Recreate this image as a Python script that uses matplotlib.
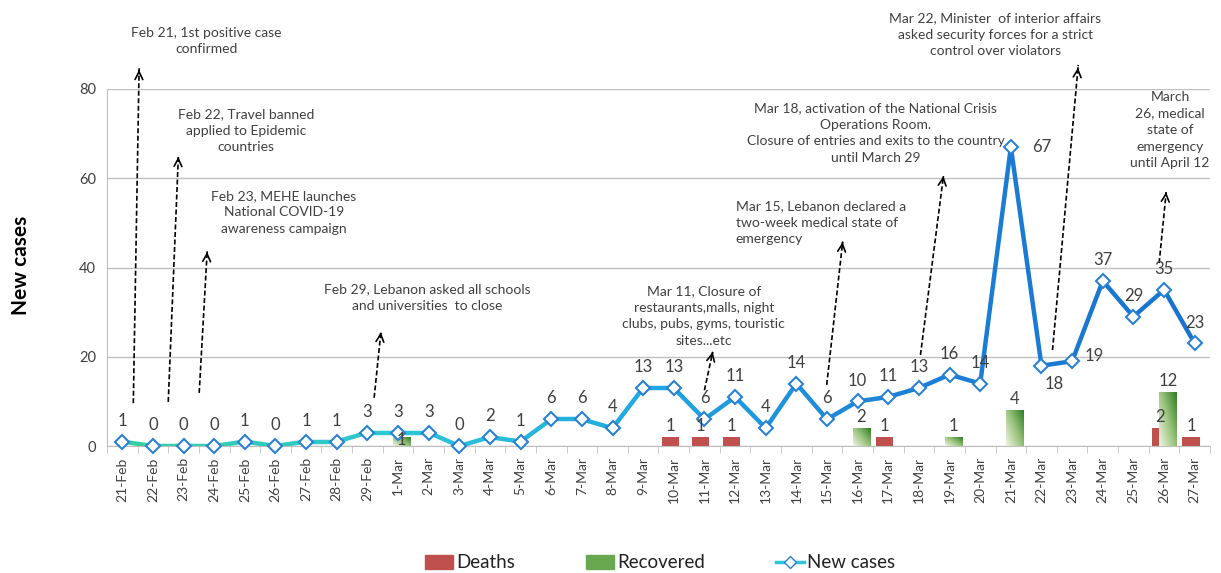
import numpy as np
import matplotlib
matplotlib.use("Agg")
import matplotlib.pyplot as plt
from matplotlib.collections import LineCollection
from matplotlib.colors import LinearSegmentedColormap
from matplotlib.patches import Patch
from matplotlib.lines import Line2D

plt.rcParams['font.family'] = ['Lato', 'DejaVu Sans']

# dates and daily new cases
dates = ["21-Feb", "22-Feb", "23-Feb", "24-Feb", "25-Feb", "26-Feb", "27-Feb", "28-Feb", "29-Feb",
         "1-Mar", "2-Mar", "3-Mar", "4-Mar", "5-Mar", "6-Mar", "7-Mar", "8-Mar", "9-Mar", "10-Mar",
         "11-Mar", "12-Mar", "13-Mar", "14-Mar", "15-Mar", "16-Mar", "17-Mar", "18-Mar", "19-Mar",
         "20-Mar", "21-Mar", "22-Mar", "23-Mar", "24-Mar", "25-Mar", "26-Mar", "27-Mar"]
new_cases = [1, 0, 0, 0, 1, 0, 1, 1, 3, 3, 3, 0, 2, 1, 6, 6, 4, 13, 13, 6, 11, 4, 14, 6,
             10, 11, 13, 16, 14, 67, 18, 19, 37, 29, 35, 23]

# deaths / recovered: label values and bar heights as drawn on the axis
death_days = ["10-Mar", "11-Mar", "12-Mar", "17-Mar", "26-Mar", "27-Mar"]
deaths = [1, 1, 1, 1, 2, 1]
deaths_bar = [2, 2, 2, 2, 4, 2]
recov_days = ["1-Mar", "16-Mar", "19-Mar", "21-Mar", "26-Mar"]
recovered = [1, 2, 1, 4, 12]
recovered_bar = [2, 4, 2, 8, 12]

# events: text, text position (x index, y), arrow tail, arrow head
events = [
    ("Feb 21, 1st positive case\nconfirmed", (2.74, 90.8), (0.36, 9.6), (0.55, 84.9), "center"),
    ("Feb 22, Travel banned\napplied to Epidemic\ncountries", (4.04, 70.6), (1.5, 9.9), (1.83, 64.8), "center"),
    ("Feb 23, MEHE launches\nNational COVID-19\nawareness campaign", (5.28, 52.4), (2.51, 11.9), (2.77, 43.5), "center"),
    ("Feb 29, Lebanon asked all schools\nand universities  to close", (9.94, 33.2), (8.22, 10.8), (8.44, 25.5), "center"),
    ("Mar 11, Closure of\nrestaurants,malls, night\nclubs, pubs, gyms, touristic\nsites...etc", (18.98, 29.1), (19.0, 12.5), (19.27, 21.1), "center"),
    ("Mar 15, Lebanon declared a\ntwo-week medical state of\nemergency", (20.02, 50.0), (22.99, 13.7), (23.51, 45.7), "left"),
    ("Mar 18, activation of the National Crisis\nOperations Room.\nClosure of entries and exits to the country\nuntil March 29", (24.58, 70.1), (26.05, 20.4), (26.8, 60.5), "center"),
    ("Mar 22, Minister  of interior affairs\nasked security forces for a strict\ncontrol over violators", (28.5, 92.1), (30.36, 21.5), (31.2, 85.4), "center"),
    ("March\n26, medical\nstate of\nemergency\nuntil April 12", (34.2, 70.8), (33.84, 41.0), (34.07, 56.9), "center"),
]

txt_col = "#404040"
x = np.arange(len(dates))

fig = plt.figure(figsize=(12.21, 5.73), dpi=100)
ax = fig.add_axes([0.0876, 0.2216, 0.9034, 0.6231])

# bars
bw = 0.56
dx = [dates.index(d) - 0.12 for d in death_days]
ax.bar(dx, deaths_bar, width=bw, color="#c0504d", zorder=2)
for xi, h, v in zip(dx, deaths_bar, deaths):
    ax.annotate(str(v), (xi, h), xytext=(0, 8), textcoords="offset points",
                ha="center", va="center", fontsize=12, color=txt_col, zorder=8)

# recovered bars with a light-to-dark green gradient (light bottom-left, dark top-right)
green = LinearSegmentedColormap.from_list("g", ["#eef4e4", "#9cc47e", "#2f7f25"])
gx, gy = np.meshgrid(np.linspace(0, 1, 30), np.linspace(0, 1, 60))
grad = (gx * 0.55 + gy * 0.45)
rx = [dates.index(d) + 0.12 for d in recov_days]
for xi, h, v in zip(rx, recovered_bar, recovered):
    ax.imshow(grad, cmap=green, vmin=0, vmax=1, extent=(xi - bw / 2, xi + bw / 2, 0, h),
              origin="lower", aspect="auto", zorder=3, interpolation="bilinear")
    if v == 1 and xi < 10:
        off = (0, -2)
    else:
        off = (0, 8)
    ax.annotate(str(v), (xi, h), xytext=off, textcoords="offset points",
                ha="center", va="center", fontsize=12, color=txt_col, zorder=8)

# line with gradient colour
line_cmap = LinearSegmentedColormap.from_list("l", ["#35cfa6", "#2cc6d6", "#20a6e0", "#1b7fd6", "#1a74cf"])
pts = np.column_stack([x, new_cases]).reshape(-1, 1, 2)
segs = np.concatenate([pts[:-1], pts[1:]], axis=1)
lc = LineCollection(segs, cmap=line_cmap, linewidths=3.2, zorder=4, capstyle="round", joinstyle="round")
lc.set_array(np.linspace(0, 1, len(segs)))
ax.add_collection(lc)
ax.plot(x, new_cases, linestyle="none", marker="D", markersize=7.5, markerfacecolor="white",
        markeredgecolor="#2a80d2", markeredgewidth=1.5, zorder=5, clip_on=False)

special = {"21-Mar": (22, 0), "22-Mar": (9, -13), "23-Mar": (16, 4)}
for i, v in enumerate(new_cases):
    off = special.get(dates[i], (0, 15))
    ax.annotate(str(v), (i, v), xytext=off, textcoords="offset points",
                ha="center", va="center", fontsize=12, color=txt_col, zorder=8)

# events
for text, tpos, tail, head, ha in events:
    ax.text(tpos[0], tpos[1], text, ha=ha, va="center", fontsize=10, color=txt_col,
            linespacing=1.45, clip_on=False)
    ax.plot([tail[0], head[0]], [tail[1], head[1]], color="black", lw=1.2,
            linestyle=(0, (3, 1.5)), clip_on=False, zorder=6)
    vx, vy = head[0] - tail[0], head[1] - tail[1]
    ax.annotate("", xy=head, xytext=(head[0] - vx * 0.02, head[1] - vy * 0.02),
                arrowprops=dict(arrowstyle="->", color="black", lw=1.2, mutation_scale=14),
                annotation_clip=False, zorder=6)

# axes styling
ax.set_xlim(-0.5, len(dates) - 0.5)
ax.set_ylim(0, 80)
ax.set_yticks([0, 20, 40, 60, 80])
ax.yaxis.grid(True, color="#bfbfbf", lw=1)
ax.set_axisbelow(True)
ax.tick_params(axis="y", length=0, labelsize=10.5, labelcolor=txt_col, pad=8)
ax.set_xticks(x)
ax.set_xticklabels(dates, rotation=90, fontsize=10, color=txt_col)
ax.set_xticks(np.arange(-0.5, len(dates), 1), minor=True)
ax.tick_params(axis="x", which="major", length=0, pad=8)
ax.tick_params(axis="x", which="minor", length=5, color="#bfbfbf", direction="out")
for s in ["top", "right"]:
    ax.spines[s].set_visible(False)
for s in ["left", "bottom"]:
    ax.spines[s].set_color("#bfbfbf")

fig.text(0.017, 1 - 265 / 573, "New cases", rotation=90, ha="center", va="center",
         fontsize=15, fontweight="bold", color="black")

handles = [Patch(color="#c0504d", label="Deaths"),
           Patch(color="#6aa84f", label="Recovered"),
           Line2D([0], [0], color="#2cc6d6", lw=2.5, marker="D", markersize=6,
                  markerfacecolor="white", markeredgecolor="#2a80d2", label="New cases")]
fig.legend(handles=handles, loc="center", bbox_to_anchor=(660 / 1221, 1 - 563 / 573), ncol=3,
           frameon=False, fontsize=13.5, columnspacing=3.8, handlelength=1.5, handletextpad=0.15,
           labelcolor="#222222")

fig.savefig("out.png", dpi=100)
